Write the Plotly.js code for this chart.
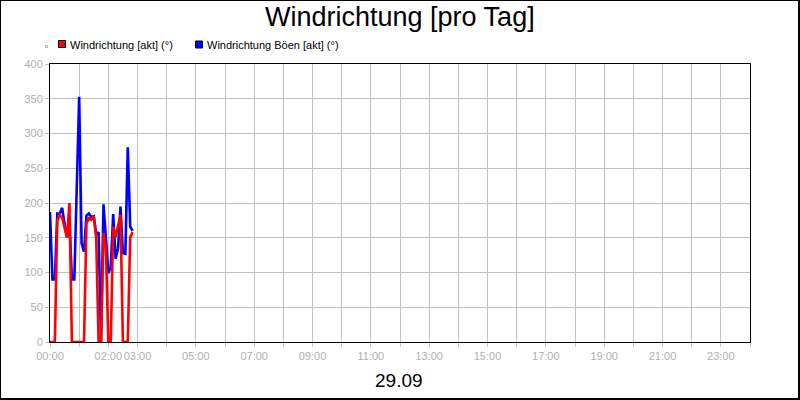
<!DOCTYPE html>
<html>
<head>
<meta charset="utf-8">
<script src="https://cdn.plot.ly/plotly-3.0.1.min.js"></script>
<style>
  html, body { margin: 0; padding: 0; background: #fff; }
  #wrap { width: 800px; height: 400px; box-sizing: border-box; border-style: solid; border-color: #000; border-width: 1px 2px 2px 1px; }
  #chart { width: 797px; height: 397px; }
</style>
</head>
<body>
<div id="wrap"><div id="chart"></div></div>
<script>
// ---- data (5-minute samples, 29.09) ----
const day = "2024-09-29";
const times = ["00:00","00:05","00:10","00:15","00:20","00:25","00:30","00:35","00:40","00:45",
               "00:50","00:55","01:00","01:05","01:10","01:15","01:20","01:25","01:30","01:35",
               "01:40","01:45","01:50","01:55","02:00","02:05","02:10","02:15","02:20","02:25",
               "02:30","02:35","02:40","02:45","02:50"];
const windrichtung = [0,0,0,175,183,179,166,150,200,0,
                      0,0,0,0,0,171,178,176,181,150,
                      0,0,157,135,0,0,166,151,166,183,
                      0,0,0,151,158];
const windrichtungBoeen = [187,90,90,185,185,193,170,151,175,90,
                           90,220,353,142,130,182,185,180,181,155,
                           158,0,198,150,99,108,184,120,135,195,
                           128,127,280,166,160];
const hourTickLabels = ["00:00","","02:00","03:00","","05:00","","07:00","","09:00","","11:00","",
                        "13:00","","15:00","","17:00","","19:00","","21:00","","23:00",""];
const seriesNames = ["Windrichtung [akt] (°)", "Windrichtung Böen [akt] (°)"];
const titleText = "Windrichtung [pro Tag]";
const dateLabel = "29.09";

// ---- geometry helpers (page pixel -> paper coords) ----
const W = 797, H = 397, L = 49, R = 48, T = 63, B = 56;
const PW = W - L - R, PH = H - T - B;
function px(x) { return (x - 1 - L) / PW; }
function py(y) { return (H - B - (y - 1)) / PH; }

const xs = times.map(t => day + " " + t);
const tickvals = hourTickLabels.map((_, i) => {
  const d = new Date(Date.UTC(2024, 8, 29, i));
  return d.toISOString().slice(0, 19).replace("T", " ");
});

const FONT = "Liberation Sans, Arial, sans-serif";
const GRID = "#c0c0c0";
const LABEL = "#b0b0b0";

const traces = [
  { x: xs, y: windrichtungBoeen, type: "scatter", mode: "lines", name: seriesNames[1],
    line: { color: "#0000ff", width: 2.6 }, showlegend: false, hoverinfo: "skip" },
  { x: xs, y: windrichtung, type: "scatter", mode: "lines", name: seriesNames[0],
    line: { color: "#ff0000", width: 2.6 }, showlegend: false, hoverinfo: "skip" }
];

const layout = {
  width: W, height: H,
  margin: { l: L, r: R, t: T, b: B, pad: 0 },
  paper_bgcolor: "#fff", plot_bgcolor: "#fff",
  font: { family: FONT, size: 11, color: LABEL },
  showlegend: false,
  xaxis: {
    type: "date",
    range: [day + " 00:00", "2024-09-30 00:00"],
    tickmode: "array", tickvals: tickvals, ticktext: hourTickLabels,
    tickangle: 0,
    ticks: "outside", ticklen: 4, tickcolor: GRID, tickwidth: 1,
    showgrid: true, gridcolor: GRID, gridwidth: 1,
    showline: true, linecolor: "#000", linewidth: 1, mirror: true,
    zeroline: false, tickfont: { family: FONT, size: 11, color: LABEL },
    fixedrange: true
  },
  yaxis: {
    range: [0, 400], dtick: 50, tick0: 0,
    ticks: "outside", ticklen: 4, tickcolor: GRID, tickwidth: 1,
    showgrid: true, gridcolor: GRID, gridwidth: 1,
    showline: true, linecolor: "#000", linewidth: 1, mirror: true,
    zeroline: false, tickfont: { family: FONT, size: 11, color: LABEL },
    fixedrange: true
  },
  annotations: [
    { text: titleText, xref: "paper", yref: "paper", x: px(399.5), y: py(17),
      xanchor: "center", yanchor: "middle", showarrow: false,
      font: { family: FONT, size: 27, color: "#000" } },
    { text: dateLabel, xref: "paper", yref: "paper", x: px(399), y: py(380.5),
      xanchor: "center", yanchor: "middle", showarrow: false,
      font: { family: FONT, size: 19, color: "#000" } },
    { text: seriesNames[0], xref: "paper", yref: "paper", x: px(67.5), y: py(44.5),
      xanchor: "left", yanchor: "middle", showarrow: false,
      font: { family: FONT, size: 11, color: "#000" } },
    { text: seriesNames[1], xref: "paper", yref: "paper", x: px(204.5), y: py(44.5),
      xanchor: "left", yanchor: "middle", showarrow: false,
      font: { family: FONT, size: 11, color: "#000" } }
  ],
  shapes: [
    { type: "rect", xref: "paper", yref: "paper", x0: px(45.5), x1: px(47.5), y0: py(47.5), y1: py(45.5),
      line: { color: "#b0b0b0", width: 1 }, fillcolor: "#fff" },
    { type: "rect", xref: "paper", yref: "paper", x0: px(58.5), x1: px(65.5), y0: py(47.5), y1: py(40.5),
      line: { color: "#000", width: 1 }, fillcolor: "#ff0000" },
    { type: "rect", xref: "paper", yref: "paper", x0: px(195.5), x1: px(202.5), y0: py(48), y1: py(41),
      line: { color: "#000", width: 1 }, fillcolor: "#0000ff" }
  ]
};

Plotly.newPlot("chart", traces, layout, { staticPlot: true, displayModeBar: false });
</script>
</body>
</html>
